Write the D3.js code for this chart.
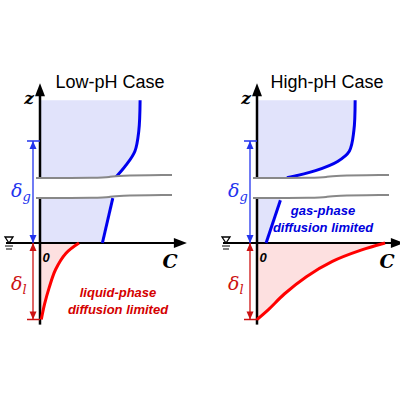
<!DOCTYPE html>
<html><head><meta charset="utf-8">
<script src="https://cdn.jsdelivr.net/npm/d3@7"></script>
<style>body{margin:0;background:#fff}</style>
</head><body>
<svg id="chart" width="400" height="400"></svg>
<script>
// panels: C (0..1) and z (interface at 0, delta_g top at 1, delta_l bottom at -0.75)
const panelTitles = ["Low-pH Case", "High-pH Case"];
const panelOrigins = [40, 257];
const gasUpperLow = [[0.77,1.4],[0.76,1.1],[0.73,0.9],[0.66,0.76],[0.58,0.64]];
const gasLowerLow = [[0.56,0.44],[0.48,0]];
const liqLow = [[0.30,0],[0.20,-0.1],[0.12,-0.26],[0.07,-0.44],[0.035,-0.6],[0.01,-0.75]];
const gasUpperHigh = [[0.755,1.4],[0.745,1.1],[0.71,0.9],[0.62,0.8],[0.45,0.71],[0.23,0.64]];
const gasLowerHigh = [[0.18,0.42],[0.07,0]];
const liqHigh = [[0.985,0],[0.80,-0.07],[0.58,-0.18],[0.38,-0.33],[0.21,-0.5],[0.09,-0.65],[0,-0.75]];
const notes = [["liquid-phase","diffusion limited"],["gas-phase","diffusion limited"]];

const svg = d3.select("#chart");
const y = d3.scaleLinear().domain([0, 1]).range([243, 141]);
const zTop = 1.4, zDl = -0.75;

const panels = [
  {gu: gasUpperLow, gl: gasLowerLow, liq: liqLow, note: notes[0], noteColor: "#d40000", noteX: 118, noteY: 297},
  {gu: gasUpperHigh, gl: gasLowerHigh, liq: liqHigh, note: notes[1], noteColor: "#0000dd", noteX: 323, noteY: 215}
];

panels.forEach((p, i) => {
  const x0 = panelOrigins[i];
  const x = d3.scaleLinear().domain([0, 1]).range([x0, x0 + 130]);
  const g = svg.append("g");
  const line = d3.line().x(d => x(d[0])).y(d => y(d[1])).curve(d3.curveCatmullRom);
  const gasAll = p.gu.concat(p.gl);
  const area = d3.area().y(d => y(d[1])).x0(x(0)).x1(d => x(d[0])).curve(d3.curveCatmullRom);

  g.append("path").attr("d", area(gasAll)).attr("fill", "#e1e3fb");
  g.append("path").attr("d", area(p.liq)).attr("fill", "#fde0e0");

  // axes
  g.append("line").attr("x1", x(0)).attr("x2", x(0)).attr("y1", y(zTop) - 6).attr("y2", y(-0.8))
    .attr("stroke", "#000").attr("stroke-width", 2.5);
  g.append("path").attr("d", `M${x(0)-5},${y(zTop)-4}L${x(0)},${y(zTop)-17}L${x(0)+5},${y(zTop)-4}Z`);
  g.append("line").attr("x1", x0 - 34).attr("x2", x(1.05)).attr("y1", y(0)).attr("y2", y(0))
    .attr("stroke", "#000").attr("stroke-width", 2);
  g.append("path").attr("d", `M${x(1.03)},${y(0)-5}L${x(1.13)},${y(0)}L${x(1.03)},${y(0)+5}Z`);

  g.append("path").attr("d", line(p.liq)).attr("fill", "none").attr("stroke", "#ff0000").attr("stroke-width", 3);
  g.append("path").attr("d", line(p.gu)).attr("fill", "none").attr("stroke", "#0000ee").attr("stroke-width", 3);
  g.append("path").attr("d", line(p.gl)).attr("fill", "none").attr("stroke", "#0000ee").attr("stroke-width", 3);

  // axis break
  const w = d3.line().curve(d3.curveBasis);
  const top = [[x0-4,178],[x0+60,178],[x0+70,177],[x0+75,175.5],[x0+132,175]];
  const bot = [[x0-4,198],[x0+60,198],[x0+70,197],[x0+75,195.5],[x0+132,195]];
  g.append("path").attr("d", w(top) + w(bot.slice().reverse()).replace("M","L") + "Z")
    .attr("fill", "#fff");
  g.append("path").attr("d", w(top)).attr("fill", "none").attr("stroke", "#888").attr("stroke-width", 2);
  g.append("path").attr("d", w(bot)).attr("fill", "none").attr("stroke", "#888").attr("stroke-width", 2);

  // delta arrows
  const ax = x0 - 7;
  const dims = [[1, 0, "#2233ee", "g", y(0.5) + 5], [0, zDl, "#cc1111", "l", y(-0.4) + 6]];
  dims.forEach(([a, b, c, sub, ty]) => {
    const tickY = y(a === 1 ? 1 : zDl);
    g.append("line").attr("x1", ax - 6).attr("x2", x0).attr("y1", tickY).attr("y2", tickY)
      .attr("stroke", c).attr("stroke-width", 1.5);
    g.append("line").attr("x1", ax).attr("x2", ax).attr("y1", y(a)).attr("y2", y(b))
      .attr("stroke", c).attr("stroke-width", 1.3);
    g.append("path").attr("d", `M${ax-3.5},${y(a)+8}L${ax},${y(a)}L${ax+3.5},${y(a)+8}Z`).attr("fill", c);
    g.append("path").attr("d", `M${ax-3.5},${y(b)-8}L${ax},${y(b)}L${ax+3.5},${y(b)-8}Z`).attr("fill", c);
    const t = g.append("text").attr("x", x0 - 29).attr("y", ty).attr("fill", c)
      .attr("font-family", "DejaVu Serif").attr("font-style", "italic").attr("font-size", 19).text("δ");
    t.append("tspan").attr("font-size", 13).attr("dy", 4).text(sub);
  });

  // water symbol
  g.append("path").attr("d", `M${x0-35},${y(0)-6}L${x0-27},${y(0)-6}L${x0-31},${y(0)}Z`)
    .attr("fill", "#fff").attr("stroke", "#000").attr("stroke-width", 1.3);
  g.append("line").attr("x1", x0-35).attr("x2", x0-27).attr("y1", y(0)+3).attr("y2", y(0)+3).attr("stroke", "#000");
  g.append("line").attr("x1", x0-34).attr("x2", x0-28).attr("y1", y(0)+6).attr("y2", y(0)+6).attr("stroke", "#000");

  // labels
  g.append("text").attr("x", x0 + 70).attr("y", 88).attr("text-anchor", "middle")
    .attr("font-family", "Liberation Sans").attr("font-size", 18).text(panelTitles[i]);
  g.append("text").attr("x", x0 - 11).attr("y", 104).attr("text-anchor", "middle")
    .attr("font-family", "DejaVu Serif").attr("font-weight", "bold").attr("font-style", "italic").attr("font-size", 17).text("z");
  g.append("text").attr("x", x(1.0)).attr("y", 268).attr("text-anchor", "middle")
    .attr("font-family", "DejaVu Serif").attr("font-weight", "bold").attr("font-style", "italic").attr("font-size", 19).text("C");
  g.append("text").attr("x", x0 + 6).attr("y", 262).attr("text-anchor", "middle")
    .attr("font-family", "Liberation Sans").attr("font-weight", "bold").attr("font-style", "italic").attr("font-size", 13).text("0");
  p.note.forEach((s, k) => {
    g.append("text").attr("x", p.noteX).attr("y", p.noteY + k * 17).attr("text-anchor", "middle")
      .attr("fill", p.noteColor).attr("font-family", "Liberation Sans").attr("font-weight", "bold")
      .attr("font-style", "italic").attr("font-size", 13).text(s);
  });
});
</script>
</body></html>
